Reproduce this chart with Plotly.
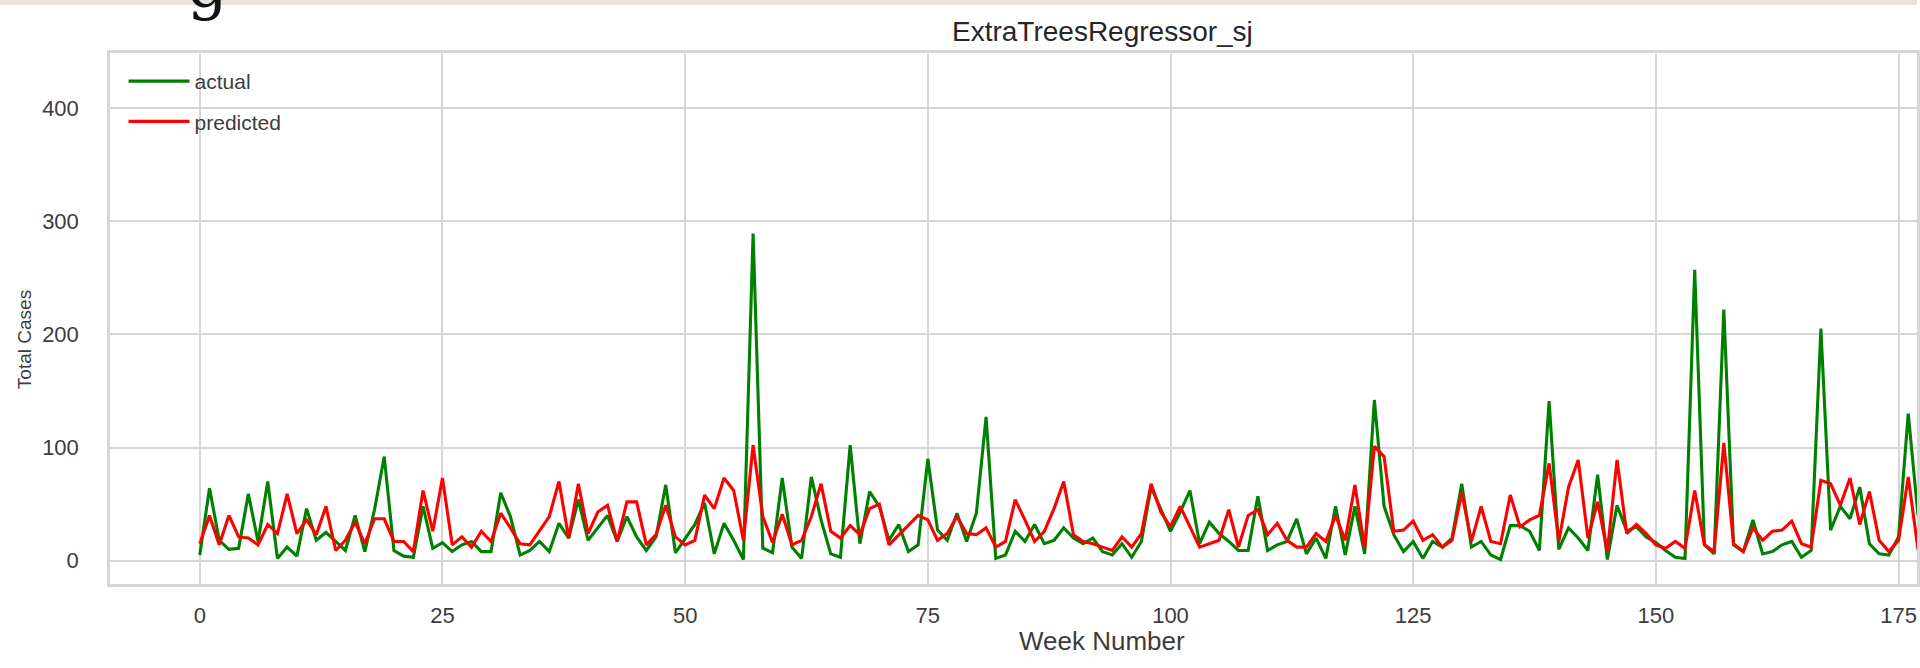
import plotly.graph_objects as go

# Weekly dengue case counts for San Juan: observed vs. ExtraTreesRegressor predictions
weeks = list(range(178))

actual = [
    5, 64, 18, 10, 11, 59, 17, 70, 2, 12,
    4, 46, 18, 25, 17, 9, 40, 8, 45, 92,
    9, 4, 3, 48, 11, 16, 8, 14, 17, 8,
    8, 60, 39, 5, 9, 17, 8, 33, 20, 54,
    18, 29, 40, 17, 39, 21, 9, 21, 67, 7,
    20, 32, 51, 6, 33, 18, 1, 289, 11, 7,
    73, 12, 2, 74, 36, 6, 3, 102, 15, 61,
    48, 18, 32, 8, 14, 90, 27, 18, 42, 17,
    42, 127, 2, 5, 26, 17, 32, 15, 18, 29,
    20, 15, 20, 8, 5, 15, 3, 17, 65, 46,
    26, 43, 62, 15, 34, 24, 17, 9, 9, 57,
    9, 14, 17, 37, 6, 20, 2, 48, 5, 48,
    6, 142, 48, 23, 8, 17, 2, 17, 12, 20,
    68, 12, 17, 5, 1, 31, 31, 26, 9, 141,
    10, 29, 20, 9, 76, 1, 49, 26, 30, 21,
    16, 9, 3, 2, 257, 14, 6, 222, 14, 8,
    36, 6, 8, 14, 17, 3, 9, 205, 27, 48,
    37, 65, 15, 6, 5, 21, 130, 40,
]

predicted = [
    15, 40, 14, 40, 21, 20, 14, 32, 24, 59,
    24, 36, 23, 48, 9, 18, 34, 15, 37, 37,
    17, 17, 8, 62, 26, 73, 14, 21, 12, 26,
    17, 42, 29, 15, 14, 26, 39, 70, 20, 68,
    24, 43, 49, 17, 52, 52, 14, 23, 49, 21,
    14, 18, 58, 46, 73, 62, 18, 102, 39, 16,
    41, 14, 18, 39, 68, 26, 20, 31, 23, 46,
    50, 14, 23, 31, 40, 36, 18, 24, 39, 24,
    23, 29, 12, 17, 54, 36, 17, 26, 46, 70,
    23, 17, 15, 12, 9, 21, 12, 24, 68, 43,
    30, 48, 30, 12, 15, 18, 45, 12, 40, 45,
    23, 33, 18, 12, 12, 24, 17, 40, 18, 67,
    11, 101, 92, 26, 27, 35, 18, 23, 12, 18,
    60, 17, 48, 17, 15, 58, 30, 36, 40, 86,
    17, 65, 89, 20, 52, 8, 89, 24, 32, 24,
    14, 11, 17, 11, 62, 14, 8, 104, 15, 8,
    29, 18, 26, 27, 35, 15, 12, 71, 68, 49,
    73, 32, 61, 18, 8, 18, 74, 10,
]

x_ticks = [0, 25, 50, 75, 100, 125, 150, 175]
y_ticks = [0, 100, 200, 300, 400]

GRID = "#d6d6d6"
TEXT = "#3c3c3c"
FONT = "Liberation Sans, Arial, sans-serif"

# plot area in pixels (the axes run on past the right edge of the figure)
PLOT_L, PLOT_T, PLOT_B = 110, 53, 584
PLOT_W, PLOT_H = 1920 - PLOT_L, PLOT_B - PLOT_T
AXES_CENTER_X = 1104  # centre of the full axes box, used by title and x label


def px_x(px):
    return (px - PLOT_L) / PLOT_W


def px_y(py):
    return (PLOT_B - py) / PLOT_H


fig = go.Figure()
fig.add_trace(go.Scatter(
    x=weeks, y=actual, mode="lines", name="actual",
    line=dict(color="green", width=3.1), legendgroup="a",
))
fig.add_trace(go.Scatter(
    x=weeks, y=predicted, mode="lines", name="predicted",
    line=dict(color="red", width=3.1), legendgroup="p",
))

fig.update_layout(
    width=1920, height=668,
    margin=dict(l=PLOT_L, r=0, t=PLOT_T, b=668 - PLOT_B),
    paper_bgcolor="white", plot_bgcolor="white",
    font=dict(family=FONT, color=TEXT, size=22),
    showlegend=True,
    legend=dict(
        x=0.0075, y=0.985, xanchor="left", yanchor="top",
        bgcolor="rgba(255,255,255,0)", borderwidth=0,
        font=dict(size=21, color=TEXT, family=FONT),
        traceorder="grouped", tracegroupgap=10, itemwidth=61,
    ),
    xaxis=dict(
        range=[-9.25, 176.9], tickmode="array", tickvals=x_ticks,
        showgrid=True, gridcolor=GRID, gridwidth=2, zeroline=False,
        showline=True, linecolor=GRID, linewidth=2.5, mirror=True,
        ticks="", tickfont=dict(size=22, color=TEXT),
        ticklabelstandoff=10,
    ),
    yaxis=dict(
        range=[-20.6, 448.6], tickmode="array", tickvals=y_ticks,
        showgrid=True, gridcolor=GRID, gridwidth=2, zeroline=False,
        showline=True, linecolor=GRID, linewidth=2.5, mirror=True,
        ticks="", tickfont=dict(size=22, color=TEXT),
        ticklabelstandoff=24,
    ),
    shapes=[dict(
        type="rect", xref="paper", yref="paper",
        x0=px_x(0), x1=1.0, y0=px_y(5), y1=px_y(-2),
        fillcolor="#e7e3da", line=dict(width=0), layer="below",
    )],
    annotations=[
        dict(
            text="ExtraTreesRegressor_sj", xref="paper", yref="paper",
            x=px_x(AXES_CENTER_X), y=1, yanchor="bottom", yshift=4,
            showarrow=False, font=dict(size=28, color="#262626", family=FONT),
        ),
        dict(
            text="Week Number", xref="paper", yref="paper",
            x=px_x(AXES_CENTER_X), y=px_y(641), yanchor="middle",
            showarrow=False, font=dict(size=26, color=TEXT, family=FONT),
        ),
        dict(
            text="Total Cases", xref="paper", yref="paper", textangle=-90,
            x=px_x(24), y=px_y(340), xanchor="center", yanchor="middle",
            showarrow=False, font=dict(size=19, color=TEXT, family=FONT),
        ),
        # bottom of a heading glyph from the page above the figure
        dict(
            text="g", xref="paper", yref="paper",
            x=px_x(208), y=px_y(24), xanchor="center", yanchor="bottom",
            showarrow=False, font=dict(size=64, color="#111111", family="DejaVu Serif"),
        ),
    ],
)

fig.write_html("out.html")
